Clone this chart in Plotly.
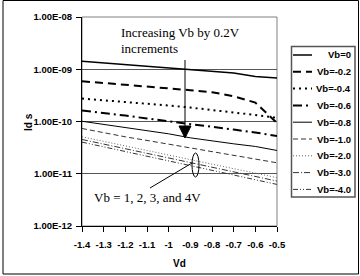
import plotly.graph_objects as go

vd = [-1.4, -1.3, -1.2, -1.1, -1.0, -0.9, -0.8, -0.7, -0.6, -0.55, -0.5]

vb0 = [1.42e-9, 1.32e-9, 1.23e-9, 1.14e-9, 1.06e-9, 9.9e-10, 9.2e-10, 8.5e-10, 7.3e-10, 7.1e-10, 6.8e-10]
vb_02 = [5.90e-10, 5.48e-10, 5.09e-10, 4.73e-10, 4.40e-10, 3.97e-10, 3.64e-10, 3.05e-10, 2.30e-10, 1.47e-10, 9.4e-11]
vb_04 = [2.75e-10, 2.56e-10, 2.38e-10, 2.21e-10, 2.02e-10, 1.85e-10, 1.67e-10, 1.51e-10, 1.34e-10, 1.26e-10, 1.17e-10]
vb_06 = [1.62e-10, 1.47e-10, 1.30e-10, 1.14e-10, 1.00e-10, 8.9e-11, 7.9e-11, 7.0e-11, 6.25e-11, 5.73e-11, 5.25e-11]
vb_08 = [1.01e-10, 8.77e-11, 7.57e-11, 6.53e-11, 5.81e-11, 4.87e-11, 4.21e-11, 3.74e-11, 3.33e-11, 3.05e-11, 2.79e-11]
vb_10 = [7.35e-11, 6.07e-11, 5.09e-11, 4.34e-11, 3.69e-11, 3.09e-11, 2.63e-11, 2.24e-11, 1.91e-11, 1.75e-11, 1.62e-11]
vb_20 = [5.09e-11, 4.15e-11, 3.38e-11, 2.79e-11, 2.28e-11, 1.85e-11, 1.53e-11, 1.25e-11, 1.03e-11, 9.3e-12, 8.4e-12]
vb_30 = [4.53e-11, 3.69e-11, 3.01e-11, 2.45e-11, 1.99e-11, 1.65e-11, 1.34e-11, 1.09e-11, 8.9e-12, 8.0e-12, 7.24e-12]
vb_40 = [4.03e-11, 3.28e-11, 2.67e-11, 2.18e-11, 1.75e-11, 1.42e-11, 1.16e-11, 9.4e-12, 7.7e-12, 6.9e-12, 6.25e-12]

series_names = ["Vb=0", "Vb=-0.2", "Vb=-0.4", "Vb=-0.6", "Vb=-0.8",
                "Vb=-1.0", "Vb=-2.0", "Vb=-3.0", "Vb=-4.0"]
series_values = [vb0, vb_02, vb_04, vb_06, vb_08, vb_10, vb_20, vb_30, vb_40]

x_tickvals = [-1.4, -1.3, -1.2, -1.1, -1.0, -0.9, -0.8, -0.7, -0.6, -0.5]
x_ticktext = ["-1.4", "-1.3", "-1.2", "-1.1", "-1", "-0.9", "-0.8", "-0.7", "-0.6", "-0.5"]
y_tickvals = [1e-12, 1e-11, 1e-10, 1e-9, 1e-8]
y_ticktext = ["1.00E-12", "1.00E-11", "1.00E-10", "1.00E-09", "1.00E-08"]

styles = [
    dict(color="black", width=1.5, dash="solid"),
    dict(color="black", width=2, dash="8px,5px"),
    dict(color="black", width=2, dash="2px,4px"),
    dict(color="black", width=2, dash="9px,4px,2px,4px"),
    dict(color="black", width=1, dash="solid"),
    dict(color="#333333", width=1, dash="5px,3px"),
    dict(color="#666666", width=1, dash="1px,2px"),
    dict(color="#333333", width=1, dash="6px,2px,1px,2px"),
    dict(color="#333333", width=1, dash="5px,2px,1px,2px,1px,2px"),
]

W, H = 360, 276
L, T, PW, PH = 82, 17, 195, 209


def px(x):
    return (x - L) / PW


def py(y):
    return (T + PH - y) / PH


fig = go.Figure()
for name, vals, st in zip(series_names, series_values, styles):
    fig.add_trace(go.Scatter(x=vd, y=vals, mode="lines", name=name, line=st, showlegend=False))

NARROW = "Liberation Sans Narrow, Arial Narrow, Liberation Sans"
bold = dict(family=NARROW, size=9.5, color="black", weight="bold")
legbold = dict(family=NARROW, size=9.5, color="black", weight="bold")
titlebold = dict(family=NARROW, size=10, color="black", weight="bold")
serif = dict(family="Liberation Serif, Times New Roman", size=13, color="black")

shapes = [
    # outer frame
    dict(type="rect", xref="paper", yref="paper", x0=px(3), x1=px(358.5), y0=py(274), y1=py(0.5),
         line=dict(color="black", width=1), layer="below"),
    # plot border top/right
    dict(type="rect", xref="paper", yref="paper", x0=0, x1=1, y0=0, y1=1,
         line=dict(color="#808080", width=1), layer="below"),
    # arrow shaft
    dict(type="line", xref="paper", yref="paper", x0=px(185), x1=px(185), y0=py(60), y1=py(128),
         line=dict(color="black", width=1)),
    # arrow head
    dict(type="path", xref="paper", yref="paper",
         path=f"M {px(179)} {py(126)} L {px(191)} {py(126)} L {px(185)} {py(138)} Z",
         fillcolor="black", line=dict(color="black", width=1)),
    # ellipse
    dict(type="circle", xref="paper", yref="paper", x0=px(192), x1=px(199), y0=py(177), y1=py(153),
         line=dict(color="black", width=1)),
    # pointer line
    dict(type="line", xref="paper", yref="paper", x0=px(192), y0=py(163), x1=px(150), y1=py(188),
         line=dict(color="black", width=1)),
    # legend box
    dict(type="rect", xref="paper", yref="paper", x0=px(291.5), x1=px(355), y0=py(197), y1=py(46.5),
         line=dict(color="#555555", width=1.5), fillcolor="white"),
]

annotations = [
    dict(xref="paper", yref="paper", x=px(119), y=py(33), text="Increasing Vb by 0.2V",
         showarrow=False, xanchor="left", yanchor="middle", font=serif),
    dict(xref="paper", yref="paper", x=px(119), y=py(48), text="increments",
         showarrow=False, xanchor="left", yanchor="middle", font=serif),
    dict(xref="paper", yref="paper", x=px(92), y=py(197), text="Vb = 1, 2, 3, and 4V",
         showarrow=False, xanchor="left", yanchor="middle", font=serif),
    dict(xref="paper", yref="paper", x=px(28), y=py(122), text="Id s", textangle=-90,
         showarrow=False, xanchor="center", yanchor="middle", font=titlebold),
    dict(xref="paper", yref="paper", x=px(179), y=py(263), text="Vd",
         showarrow=False, xanchor="center", yanchor="middle", font=titlebold),
]

# legend entries (drawn as samples + labels)
for i, (name, st) in enumerate(zip(series_names, styles)):
    yy = 55 + 16.8 * i
    shapes.append(dict(type="line", xref="paper", yref="paper", x0=px(293), x1=px(312),
                       y0=py(yy), y1=py(yy), line=st))
    annotations.append(dict(xref="paper", yref="paper", x=px(352.5), y=py(yy), text=name,
                            showarrow=False, xanchor="right", yanchor="middle", font=legbold))

fig.update_layout(
    width=W, height=H,
    margin=dict(l=L, r=W - L - PW, t=T, b=H - T - PH, pad=0),
    paper_bgcolor="white", plot_bgcolor="white",
    shapes=shapes, annotations=annotations, showlegend=False,
    xaxis=dict(range=[-1.4, -0.5], tickvals=x_tickvals, ticktext=x_ticktext, tickangle=0,
               showgrid=False, zeroline=False, showline=True, linecolor="black", linewidth=1,
               ticks="outside", ticklen=5, tickcolor="black", tickfont=bold,
               ticklabelstandoff=5),
    yaxis=dict(type="log", range=[-12, -8], tickvals=y_tickvals, ticktext=y_ticktext,
               showgrid=True, gridcolor="#555555", gridwidth=1, zeroline=False,
               showline=True, linecolor="black", linewidth=1,
               ticks="outside", ticklen=5, tickcolor="black", tickfont=bold,
               ticklabelstandoff=2),
)

fig.write_html("out.html")
